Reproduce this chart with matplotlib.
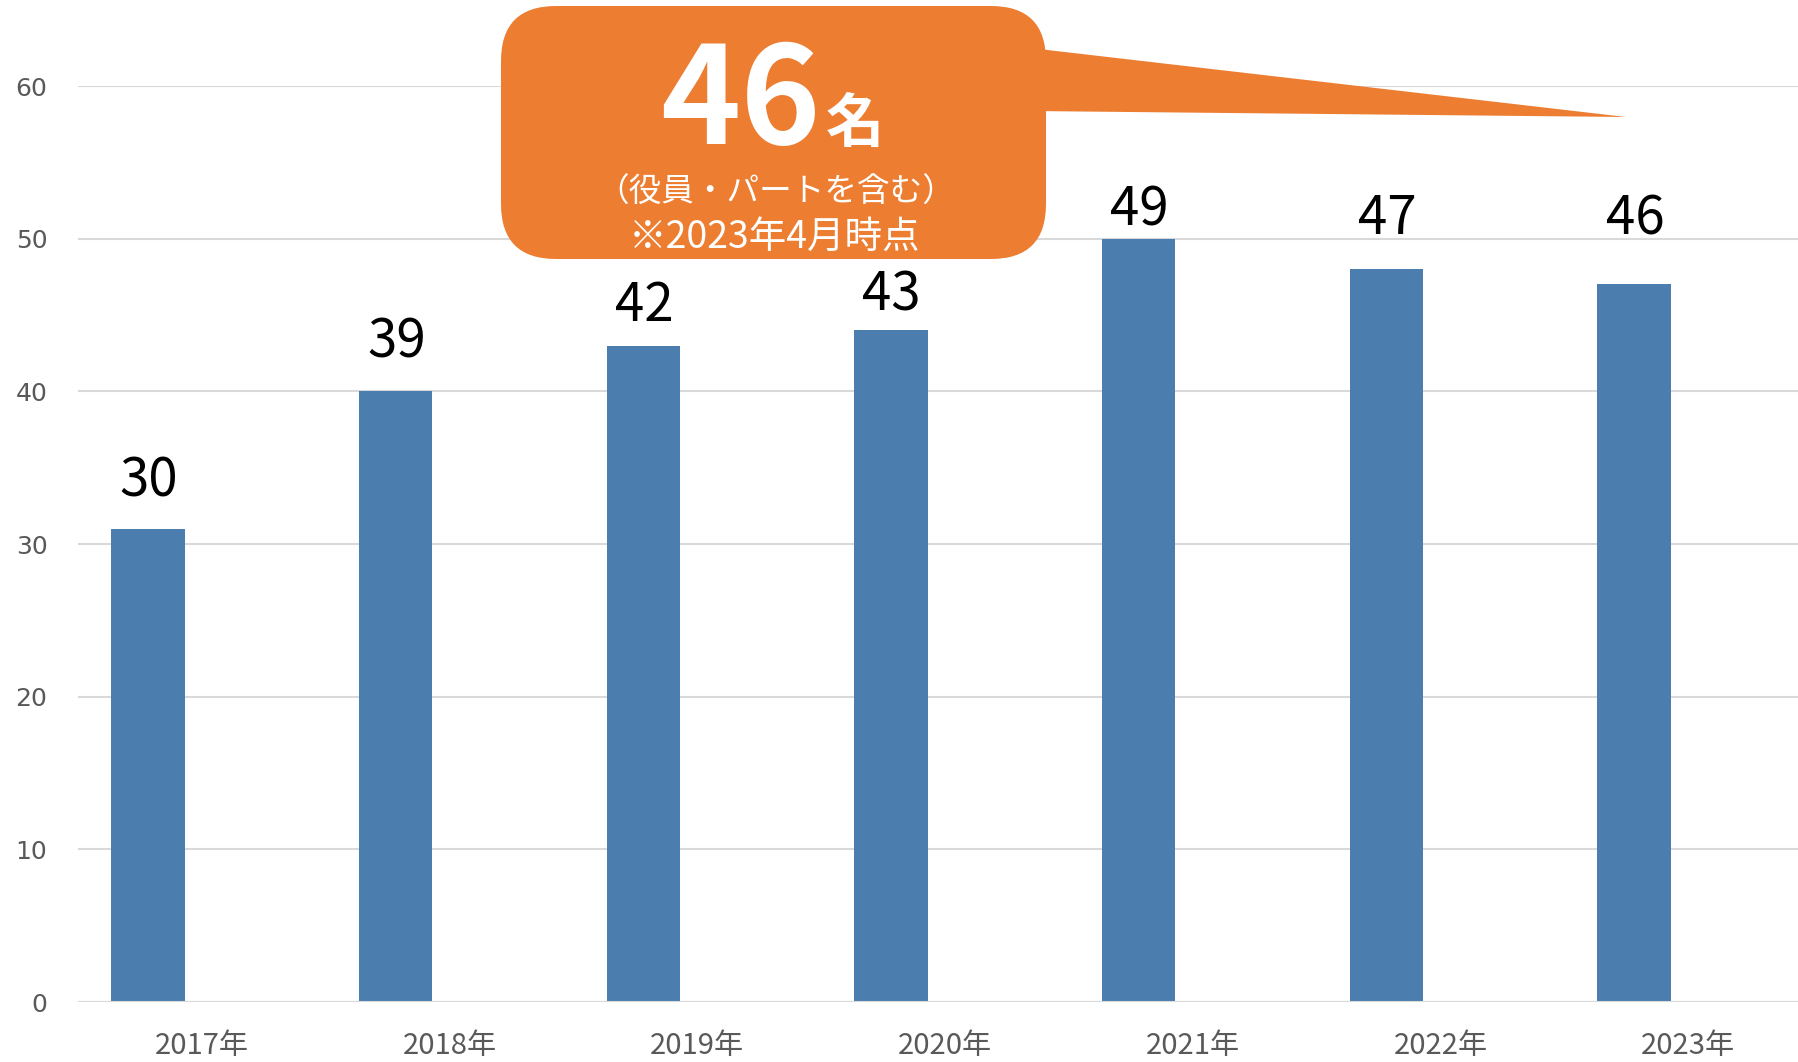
import numpy as np
import matplotlib.pyplot as plt
from matplotlib.patches import FancyBboxPatch, Polygon

plt.rcParams['font.family'] = ['Noto Sans CJK JP', 'DejaVu Sans']

# data
years = ['2017年', '2018年', '2019年', '2020年', '2021年', '2022年', '2023年']
bar_values = [31, 40, 43, 44, 50, 48, 47]
label_values = [30, 39, 42, 43, 49, 47, 46]
# labels were placed by hand in the original, so keep their heights (data units)
label_heights = [34.1, 43.2, 45.6, 46.3, 51.9, 51.3, 51.3]
yticks = [0, 10, 20, 30, 40, 50, 60]

callout_number = '46'
callout_unit = '名'
callout_note1 = '（役員・パートを含む）'
callout_note2 = '※2023年4月時点'

bar_color = '#4B7EAE'
grid_color = '#D9D9D9'
text_gray = '#595959'
orange = '#ED7D31'

W, H = 1798, 1062
fig = plt.figure(figsize=(W / 100, H / 100), dpi=100)

# main axes, right side runs a little past the figure edge like the original
left_px, right_px, bottom_px, top_px = 78, 1812, 1002, 86
ax = fig.add_axes([left_px / W, (H - bottom_px) / H,
                   (right_px - left_px) / W, (bottom_px - top_px) / H])

x = np.arange(len(years))
ax.bar(x - 0.218, bar_values, width=0.296, color=bar_color, zorder=2)

for xi, ly, lab in zip(x, label_heights, label_values):
    ax.text(xi - 0.215, ly, str(lab), ha='center', va='center',
            fontsize=38, color='black')

ax.set_xlim(-0.5, len(years) - 0.5)
ax.set_ylim(0, 60)
ax.set_yticks(yticks)
ax.set_yticklabels([str(t) for t in yticks], family='DejaVu Sans', fontsize=18, color=text_gray)
ax.set_xticks(x)
ax.set_xticklabels(years, fontsize=21, color=text_gray)
ax.tick_params(axis='y', length=0, pad=22)
ax.tick_params(axis='x', length=0, pad=21)
ax.grid(axis='y', color=grid_color, linewidth=1.5, zorder=0)
ax.axhline(0, color=grid_color, linewidth=1.5, zorder=3)
for s in ax.spines.values():
    s.set_visible(False)

# callout overlay in pixel coords
ov = fig.add_axes([0, 0, 1, 1])
ov.set_xlim(0, W)
ov.set_ylim(H, 0)
ov.axis('off')

r = 55
bx0, by0, bx1, by1 = 501, 6, 1046, 259
ov.add_patch(Polygon([(1030, 48), (1626, 117), (1030, 111)], closed=True,
                     facecolor=orange, edgecolor='none'))
ov.add_patch(FancyBboxPatch((bx0 + r, by0 + r), bx1 - bx0 - 2 * r, by1 - by0 - 2 * r,
                            boxstyle=f'round,pad={r},rounding_size={r}',
                            facecolor=orange, edgecolor='none'))

ov.text(740, 144, callout_number, ha='center', va='baseline', fontsize=98,
        fontweight='bold', color='white')
ov.text(826, 142, callout_unit, ha='left', va='baseline', fontsize=42,
        fontweight='bold', color='white')
ov.text(776, 193, callout_note1, ha='center', va='center', fontsize=23.5, color='white')
ov.text(774, 237, callout_note2, ha='center', va='center', fontsize=27, color='white')

fig.savefig('out.png', dpi=100)
